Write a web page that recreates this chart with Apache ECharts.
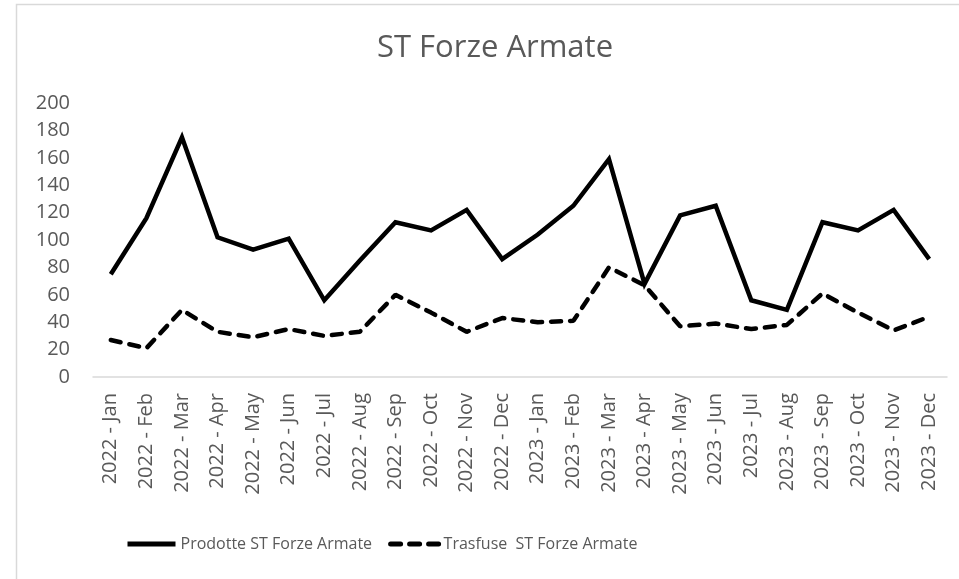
<!DOCTYPE html>
<html lang="it">
<head>
  <meta charset="UTF-8">
  <script src="https://cdn.jsdelivr.net/npm/echarts@6.0.0/dist/echarts.min.js"></script>
  <style>
    html, body { margin: 0; padding: 0; background: #fff; overflow: hidden; }
    #main { width: 959px; height: 579px; }
  </style>
</head>
<body>
  <div id="main"></div>
  <script>
    var months = ['2022 - Jan', '2022 - Feb', '2022 - Mar', '2022 - Apr', '2022 - May', '2022 - Jun',
      '2022 - Jul', '2022 - Aug', '2022 - Sep', '2022 - Oct', '2022 - Nov', '2022 - Dec',
      '2023 - Jan', '2023 - Feb', '2023 - Mar', '2023 - Apr', '2023 - May', '2023 - Jun',
      '2023 - Jul', '2023 - Aug', '2023 - Sep', '2023 - Oct', '2023 - Nov', '2023 - Dec'];
    var prodotte = [75, 116, 175, 102, 93, 101, 56, 85, 113, 107, 122, 86,
      104, 125, 159, 68, 118, 125, 56, 49, 113, 107, 122, 86];
    var trasfuse = [27, 21, 49, 33, 29, 35, 30, 33, 60, 47, 33, 43,
      40, 41, 80, 67, 37, 39, 35, 38, 61, 47, 34, 44];

    var grey = '#595959';
    var font = '"Open Sans", sans-serif';

    var myChart = echarts.init(document.getElementById('main'));

    var option = {
      backgroundColor: '#fff',
      animation: false,
      textStyle: { fontFamily: font },
      graphic: [
        {
          type: 'rect',
          shape: { x: 16.5, y: 4.5, width: 1200, height: 1200 },
          style: { fill: 'none', stroke: '#d9d9d9', lineWidth: 1.5 },
          silent: true
        },
        {
          type: 'text',
          x: 495,
          y: 48,
          style: {
            text: 'ST Forze Armate',
            fill: grey,
            font: '31px "Open Sans", sans-serif',
            textAlign: 'center',
            textVerticalAlign: 'middle'
          }
        }
      ],
      grid: { left: 93, right: 12, top: 103, bottom: 202 },
      legend: {
        left: 120,
        top: 531,
        itemWidth: 48,
        itemHeight: 14,
        itemGap: 16,
        itemStyle: { opacity: 0 },
        lineStyle: { width: 5 },
        textStyle: { color: grey, fontSize: 16 },
        data: ['Prodotte ST Forze Armate', 'Trasfuse  ST Forze Armate']
      },
      xAxis: {
        type: 'category',
        data: months,
        boundaryGap: true,
        axisLine: { lineStyle: { color: '#d9d9d9', width: 1.5 } },
        axisTick: { show: false },
        axisLabel: { rotate: 90, color: grey, fontSize: 20, margin: 16, interval: 0 }
      },
      yAxis: {
        type: 'value',
        min: 0,
        max: 200,
        interval: 20,
        splitLine: { show: false },
        axisLine: { show: false },
        axisTick: { show: false },
        axisLabel: { color: grey, fontSize: 20, margin: 23 }
      },
      series: [
        {
          name: 'Prodotte ST Forze Armate',
          type: 'line',
          data: prodotte,
          symbol: 'none',
          lineStyle: { color: '#000', width: 4.5, join: 'miter' },
          itemStyle: { color: '#000' }
        },
        {
          name: 'Trasfuse  ST Forze Armate',
          type: 'line',
          data: trasfuse,
          symbol: 'none',
          lineStyle: { color: '#000', width: 4.5, type: [10, 9], cap: 'round' },
          itemStyle: { color: '#000' }
        }
      ]
    };

    myChart.setOption(option);
  </script>
</body>
</html>
